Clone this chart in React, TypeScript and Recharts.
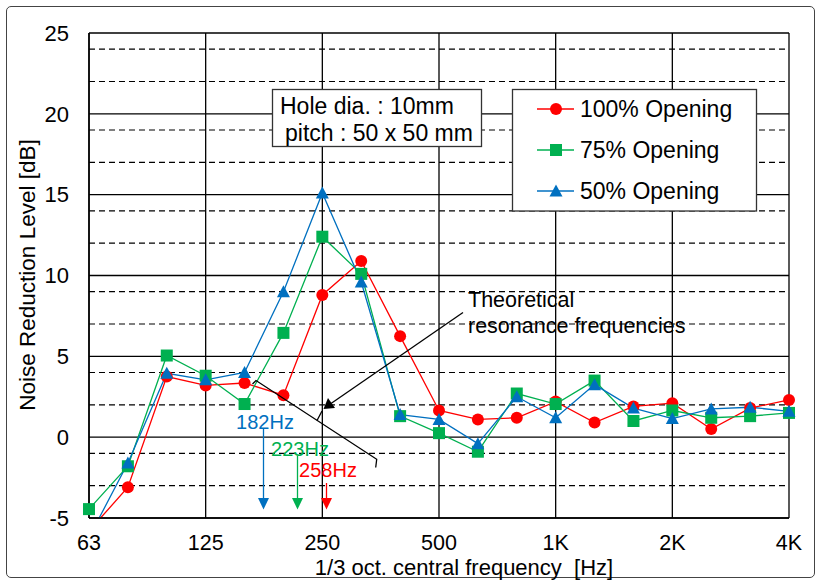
import React from "react";
import { LineChart, Line, XAxis, YAxis, CartesianGrid } from "recharts";

// 1/3 octave band centre frequencies
const bands = ["63", "80", "100", "125", "160", "200", "250", "315", "400", "500", "630", "800", "1K", "1.25K", "1.6K", "2K", "2.5K", "3.15K", "4K"];
const xTicks = [0, 3, 6, 9, 12, 15, 18];
const yMajor = [-5, 0, 5, 10, 15, 20, 25];
const yMinor = [-4, -3, -2, -1, 1, 2, 3, 4, 6, 7, 8, 9, 11, 12, 13, 14, 16, 17, 18, 19, 21, 22, 23, 24];

// noise reduction level [dB]
const open100 = [-5.8, -3.1, 3.75, 3.2, 3.35, 2.6, 8.8, 10.9, 6.25, 1.65, 1.1, 1.2, 2.2, 0.9, 1.9, 2.1, 0.5, 1.8, 2.3];
const open75 = [-4.45, -1.8, 5.05, 3.8, 2.05, 6.45, 12.4, 10.1, 1.3, 0.25, -0.9, 2.7, 2.05, 3.5, 1.0, 1.65, 1.2, 1.3, 1.5];
const open50 = [-6.2, -1.6, 3.95, 3.55, 4.0, 9.0, 15.1, 9.6, 1.4, 1.1, -0.4, 2.5, 1.2, 3.25, 1.8, 1.15, 1.75, 1.85, 1.6];

const RED = "#FF0000";
const GREEN = "#00B050";
const BLUE = "#0070C0";
const FONT = "'Liberation Sans', Arial, sans-serif";

const rows = bands.map((b, i) => ({ i, band: b, r: open100[i], g: open75[i], b: open50[i] }));

const circleDot = (p: any) => (
  <circle key={p.index} cx={p.cx} cy={p.cy} r={6} fill={RED} />
);
const squareDot = (p: any) => (
  <rect key={p.index} x={p.cx - 6} y={p.cy - 6} width={12} height={12} fill={GREEN} />
);
const triDot = (p: any) => (
  <polygon
    key={p.index}
    points={`${p.cx},${p.cy - 6.5} ${p.cx + 6.5},${p.cy + 5.5} ${p.cx - 6.5},${p.cy + 5.5}`}
    fill={BLUE}
  />
);

function Overlay() {
  const txt = { fontFamily: FONT, fill: "#000" } as const;
  return (
    <svg width={819} height={580} style={{ position: "absolute", left: 0, top: 0, pointerEvents: "none" }}>
      {/* axis titles */}
      <text {...txt} x={27} y={275} fontSize={22.5} textAnchor="middle" dominantBaseline="central" transform="rotate(-90 27 275)">
        Noise Reduction Level [dB]
      </text>
      <text {...txt} x={464} y={567} fontSize={22} textAnchor="middle" dominantBaseline="central" xmlSpace="preserve">
        1/3 oct. central frequency  [Hz]
      </text>

      {/* info box */}
      <rect x={272.5} y={89.5} width={209} height={57} fill="#fff" stroke="#333" strokeWidth={1.3} />
      <text {...txt} x={280} y={106} fontSize={23} dominantBaseline="central">Hole dia. : 10mm</text>
      <text {...txt} x={285} y={133} fontSize={23} dominantBaseline="central">pitch : 50 x 50 mm</text>

      {/* legend */}
      <rect x={512.5} y={89.5} width={244} height={121.5} fill="#fff" stroke="#333" strokeWidth={1.3} />
      <line x1={537} x2={574} y1={109} y2={109} stroke={RED} strokeWidth={1.3} />
      <circle cx={556} cy={109} r={6} fill={RED} />
      <text {...txt} x={580} y={109} fontSize={23} dominantBaseline="central">100% Opening</text>
      <line x1={537} x2={574} y1={150} y2={150} stroke={GREEN} strokeWidth={1.3} />
      <rect x={550} y={144} width={12} height={12} fill={GREEN} />
      <text {...txt} x={580} y={150} fontSize={23} dominantBaseline="central">75% Opening</text>
      <line x1={537} x2={574} y1={191} y2={191} stroke={BLUE} strokeWidth={1.3} />
      <polygon points="556,184.5 562.5,196.5 549.5,196.5" fill={BLUE} />
      <text {...txt} x={580} y={191} fontSize={23} dominantBaseline="central">50% Opening</text>

      {/* theoretical resonance annotation */}
      <text {...txt} x={468} y={300} fontSize={21.5} dominantBaseline="central">Theoretical</text>
      <text {...txt} x={468} y={326} fontSize={21.5} dominantBaseline="central">resonance frequencies</text>
      <polyline points="252.5,384 256,380.5 376.7,459.3 375.7,467.5" fill="none" stroke="#000" strokeWidth={1.3} />
      <line x1={463} y1={312.5} x2={331} y2={403.5} stroke="#000" strokeWidth={1.3} />
      <polygon points="323.5,409 328,398 335,408" fill="#000" />
      <line x1={322} y1={411} x2={317} y2={420.5} stroke="#000" strokeWidth={1.3} />

      {/* frequency markers */}
      <text x={265} y={421.5} fontFamily={FONT} fontSize={20} fill={BLUE} textAnchor="middle" dominantBaseline="central">182Hz</text>
      <line x1={263.5} x2={263.5} y1={429} y2={499} stroke={BLUE} strokeWidth={1.3} />
      <polygon points="258,498 269,498 263.5,509.5" fill={BLUE} />
      <text x={300} y={448.5} fontFamily={FONT} fontSize={20} fill={GREEN} textAnchor="middle" dominantBaseline="central">223Hz</text>
      <line x1={297.5} x2={297.5} y1={456} y2={499} stroke={GREEN} strokeWidth={1.3} />
      <polygon points="292,498 303,498 297.5,509.5" fill={GREEN} />
      <text x={328} y={470} fontFamily={FONT} fontSize={20} fill={RED} textAnchor="middle" dominantBaseline="central">258Hz</text>
      <line x1={326.5} x2={326.5} y1={483} y2={499} stroke={RED} strokeWidth={1.3} />
      <polygon points="321,498 332,498 326.5,509.5" fill={RED} />
    </svg>
  );
}

export default function App() {
  return (
    <div style={{ position: "relative", width: 819, height: 580, background: "#fff", fontFamily: FONT }}>
      <style>{"body{margin:0}"}</style>
      <div
        style={{
          position: "absolute",
          left: 6,
          top: 6,
          width: 807,
          height: 570,
          border: "1px solid #444",
          borderRadius: 5,
        }}
      />
      <LineChart width={819} height={580} data={rows} margin={{ top: 33, right: 30, bottom: 0, left: 0 }}>
        <CartesianGrid horizontalValues={yMinor} vertical={false} stroke="#000" strokeDasharray="6 4" strokeWidth={1.2} />
        <CartesianGrid horizontalValues={yMajor} verticalValues={xTicks} stroke="#000" strokeWidth={1.3} />
        <XAxis
          dataKey="i"
          type="number"
          domain={[0, 18]}
          ticks={xTicks}
          tickFormatter={(v: number) => bands[v]}
          height={62}
          tickSize={0}
          tickMargin={17}
          axisLine={{ stroke: "#000", strokeWidth: 1.5 }}
          tick={{ fill: "#000", fontSize: 21.5, fontFamily: FONT }}
        />
        <YAxis
          type="number"
          domain={[-5, 25]}
          ticks={yMajor}
          allowDataOverflow
          width={89}
          tickSize={0}
          tickMargin={20}
          axisLine={{ stroke: "#000", strokeWidth: 1.5 }}
          tick={{ fill: "#000", fontSize: 22, fontFamily: FONT }}
        />
        <YAxis yAxisId="g" type="number" domain={[-5, 25]} hide />
        <Line type="linear" dataKey="r" stroke={RED} strokeWidth={1.3} dot={circleDot} activeDot={false} isAnimationActive={false} />
        <Line type="linear" dataKey="g" yAxisId="g" stroke={GREEN} strokeWidth={1.3} dot={squareDot} activeDot={false} isAnimationActive={false} />
        <Line type="linear" dataKey="b" stroke={BLUE} strokeWidth={1.3} dot={triDot} activeDot={false} isAnimationActive={false} />
      </LineChart>
      <Overlay />
    </div>
  );
}
